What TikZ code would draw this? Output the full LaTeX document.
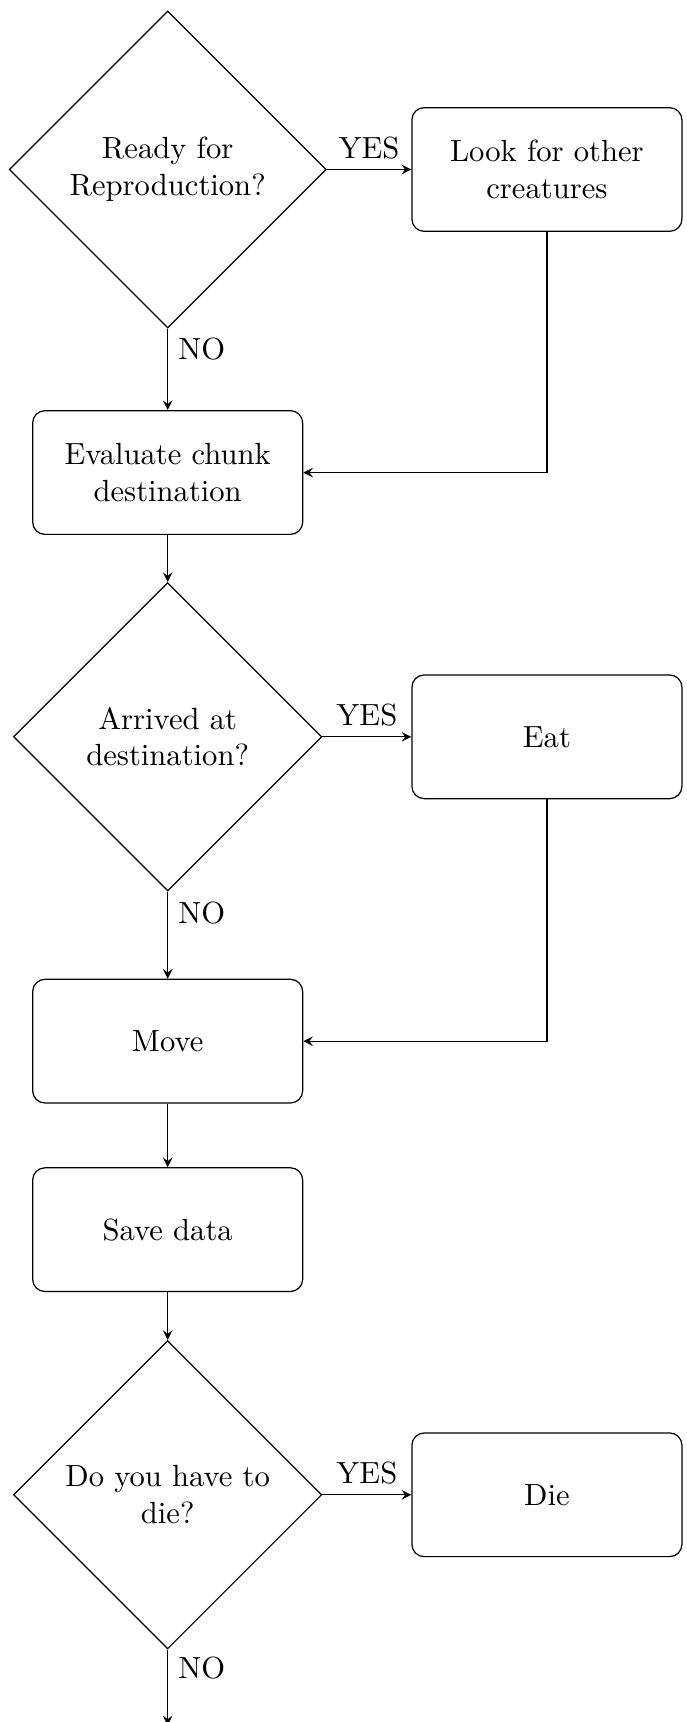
\documentclass[tikz,border=0pt]{standalone}
\usepackage{tikz}
\usetikzlibrary{positioning, shapes.geometric, arrows}
\tikzset{
    decision/.style={diamond, draw, aspect=1, inner sep=0pt, text width=2.8cm, align=center, minimum size=3.54cm},
    bigdecision/.style={decision, minimum size=3.64cm},
    process/.style={rectangle, rounded corners, draw, text width=2.6cm, align=center, minimum width=3.1cm, minimum height=1.42cm},
    flow/.style={->, >=stealth},
}

\begin{document}
\begin{tikzpicture}
                        \useasboundingbox (-1.925,1.946) rectangle (5.951,-17.824);
                        \node [bigdecision] (ready) at (0,0) {Ready for\\ Reproduction?};
                        \node [process] (look) [right=0.97cm of ready] {Look for other creatures};
                        \node [process] (evaluate) [below=0.935cm of ready] {Evaluate chunk destination};
                        \node [decision] (arrived) [below=0.54cm of evaluate] {Arrived at\\ destination?};
                        \node [process] (eat) at (arrived -| look) {Eat};
                        \node [process] (move) [below=1.0cm of arrived] {Move};
                        \node [process] (save) [below=0.73cm of move] {Save data};
                        \node [decision] (die) [below=0.55cm of save] {Do you have to\\ die?};
                        \node [process] (dead) at (die -| look) {Die};
                        \coordinate [below=0.87cm of die] (end);
                        \draw[flow] (ready) -- node[above] {YES} (look);
                        \draw[flow] (ready) -- node[near start, right] {NO} (evaluate);
                        \draw[flow] (look) |- (evaluate);
                        \draw[flow] (evaluate) -- (arrived);
                        \draw[flow] (arrived) -- node[above] {YES} (eat);
                        \draw[flow] (arrived) -- node[near start, right] {NO} (move);
                        \draw[flow] (eat) |- (move);
                        \draw[flow] (move) -- (save);
                        \draw[flow] (save) -- (die);
                        \draw[flow] (die) -- node[above] {YES} (dead);
                        \draw[flow] (die) -- node[near start, right] {NO} (end);
                    \end{tikzpicture}
\end{document}
